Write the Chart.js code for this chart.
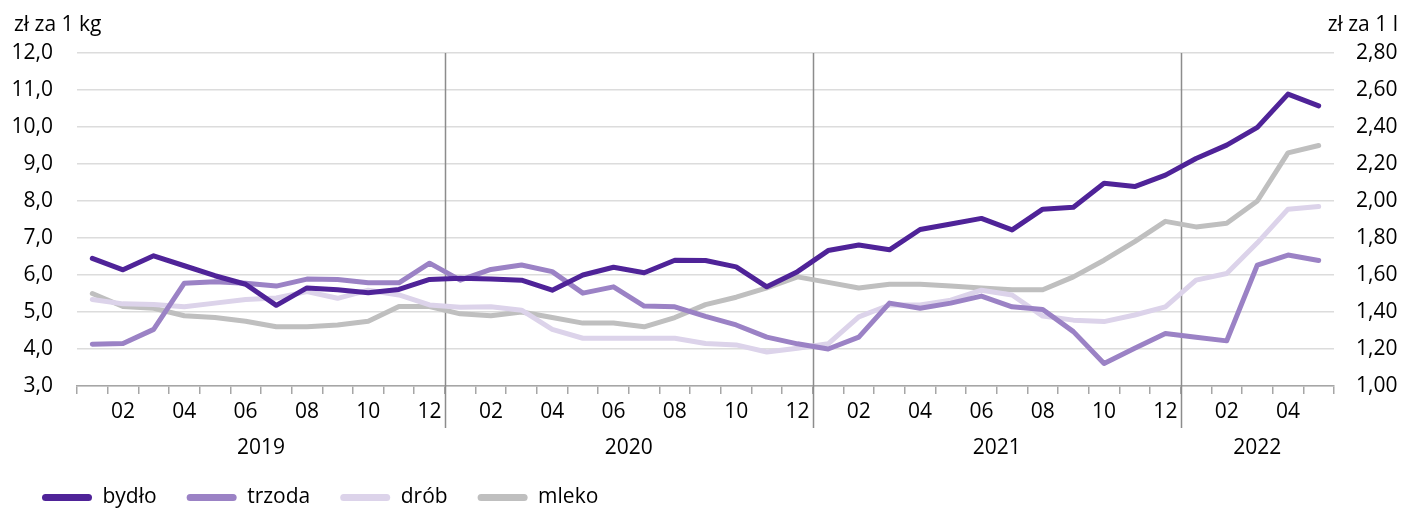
<!DOCTYPE html>
<html><head><meta charset="utf-8">
<script src="https://cdn.jsdelivr.net/npm/chart.js@4/dist/chart.umd.min.js"></script>
<style>html,body{margin:0;padding:0;background:#fff;}#wrap{width:1403px;height:511px;position:relative;}</style>
</head><body><div id="wrap"><canvas id="c" width="1403" height="511"></canvas></div>
<script>
const years = ['2019', '2020', '2021', '2022'];
const categories = [
  '2019-01','2019-02','2019-03','2019-04','2019-05','2019-06','2019-07','2019-08','2019-09','2019-10','2019-11','2019-12',
  '2020-01','2020-02','2020-03','2020-04','2020-05','2020-06','2020-07','2020-08','2020-09','2020-10','2020-11','2020-12',
  '2021-01','2021-02','2021-03','2021-04','2021-05','2021-06','2021-07','2021-08','2021-09','2021-10','2021-11','2021-12',
  '2022-01','2022-02','2022-03','2022-04','2022-05'
];
// zł za 1 kg (left axis)
const bydlo = [6.45,6.14,6.52,6.25,5.98,5.75,5.18,5.65,5.60,5.52,5.61,5.88,
  5.91,5.89,5.86,5.59,6.00,6.21,6.06,6.40,6.39,6.22,5.68,6.09,
  6.66,6.81,6.68,7.23,7.38,7.53,7.22,7.78,7.83,8.48,8.39,8.70,
  9.15,9.51,9.99,10.89,10.57];
const trzoda = [4.13,4.15,4.53,5.78,5.82,5.78,5.70,5.89,5.88,5.79,5.79,6.32,
  5.86,6.15,6.27,6.09,5.51,5.68,5.16,5.14,4.88,4.65,4.32,4.14,
  4.00,4.32,5.24,5.10,5.24,5.43,5.14,5.07,4.47,3.61,4.02,4.42,
  4.32,4.22,6.27,6.54,6.39];
const drob = [5.34,5.22,5.20,5.14,5.24,5.34,5.38,5.55,5.37,5.59,5.46,5.19,
  5.13,5.14,5.05,4.53,4.29,4.29,4.29,4.29,4.15,4.11,3.92,4.02,
  4.14,4.87,5.19,5.19,5.32,5.59,5.46,4.89,4.78,4.74,4.92,5.14,
  5.86,6.04,6.87,7.78,7.85];
// zł za 1 l (right axis)
const mleko = [1.50,1.43,1.42,1.38,1.37,1.35,1.32,1.32,1.33,1.35,1.43,1.43,
  1.39,1.38,1.40,1.37,1.34,1.34,1.32,1.37,1.44,1.48,1.53,1.59,
  1.56,1.53,1.55,1.55,1.54,1.53,1.52,1.52,1.59,1.68,1.78,1.89,
  1.86,1.88,2.00,2.26,2.30];
const seriesNames = ['bydło', 'trzoda', 'drób', 'mleko'];
const colors = ['#4f2398', '#9b82c5', '#dcd3ea', '#bfbfbf'];
const leftTitle = 'zł za 1 kg';
const rightTitle = 'zł za 1 l';

const FONT = '"Open Sans", "Noto Sans", sans-serif';
const fnt = {family: FONT, size: 21};

const decor = {
  id: 'decor',
  beforeDatasetsDraw(chart) {
    const xs = chart.scales.x, ctx = chart.ctx, area = chart.chartArea;
    ctx.save();
    ctx.strokeStyle = '#8c8c8c';
    ctx.lineWidth = 1.5;
    years.forEach(y => {
      const idx = categories.map((c, i) => c.startsWith(y) ? i : -1).filter(i => i >= 0);
      const last = idx[idx.length - 1];
      if (last < categories.length - 1) {
        const xb = Math.round((xs.getPixelForValue(last) + xs.getPixelForValue(last + 1)) / 2) + 0.5;
        ctx.beginPath();
        ctx.moveTo(xb, area.top);
        ctx.lineTo(xb, area.bottom + 42);
        ctx.stroke();
      }
    });
    ctx.restore();
  },
  afterDraw(chart) {
    const xs = chart.scales.x, ctx = chart.ctx, area = chart.chartArea;
    ctx.save();
    ctx.font = '21px ' + FONT;
    ctx.fillStyle = '#000';
    ctx.textBaseline = 'middle';
    ctx.textAlign = 'center';
    years.forEach(y => {
      const idx = categories.map((c, i) => c.startsWith(y) ? i : -1).filter(i => i >= 0);
      const x0 = xs.getPixelForValue(idx[0]), x1 = xs.getPixelForValue(idx[idx.length - 1]);
      ctx.fillText(y, (x0 + x1) / 2, area.bottom + 62);
    });
    ctx.textAlign = 'left';
    ctx.fillText(leftTitle, 14, 25);
    ctx.textAlign = 'right';
    ctx.fillText(rightTitle, 1398, 25);
    ctx.restore();
  }
};

const ds = (label, data, color, axis) => ({
  label, data, borderColor: color, backgroundColor: color, borderWidth: 5,
  pointRadius: 0, pointHoverRadius: 0, tension: 0, fill: false, yAxisID: axis,
  borderJoinStyle: 'round', borderCapStyle: 'round'
});

new Chart(document.getElementById('c'), {
  type: 'line',
  data: {
    labels: categories,
    datasets: [
      ds(seriesNames[0], bydlo, colors[0], 'y'),
      ds(seriesNames[1], trzoda, colors[1], 'y'),
      ds(seriesNames[2], drob, colors[2], 'y'),
      ds(seriesNames[3], mleko, colors[3], 'y1')
    ]
  },
  options: {
    responsive: false,
    animation: false,
    events: [],
    layout: {padding: {top: 53, left: 12, right: 0, bottom: 0}},
    plugins: {
      title: {display: false},
      tooltip: {enabled: false},
      legend: {
        display: true, position: 'bottom', align: 'start', maxHeight: 54,
        labels: {
          boxWidth: 50, boxHeight: 7, padding: 30, font: fnt, color: '#000',
          useBorderRadius: true, borderRadius: 3.5,
          generateLabels(chart) {
            return chart.data.datasets.map((d, i) => ({
              text: d.label, fillStyle: d.borderColor, strokeStyle: d.borderColor,
              lineWidth: 0, hidden: false, datasetIndex: i, borderRadius: 3.5, fontColor: '#000'
            }));
          }
        }
      }
    },
    scales: {
      x: {
        type: 'category', offset: true,
        grid: {display: true, drawOnChartArea: false, drawTicks: true, tickLength: 8, color: '#a6a6a6', lineWidth: 1.5, offset: true},
        border: {display: true, color: '#a6a6a6', width: 1.5},
        ticks: {
          autoSkip: false, maxRotation: 0, minRotation: 0, padding: 5, font: fnt, color: '#000',
          callback: (v, i) => { const m = categories[i].slice(5); return (parseInt(m, 10) % 2 === 0) ? m : ''; }
        },
        afterFit(s) { s.height = 71; }
      },
      y: {
        position: 'left', min: 3, max: 12,
        ticks: {stepSize: 1, padding: 24, font: fnt, color: '#000', callback: v => Number(v).toFixed(1).replace('.', ',')},
        grid: {color: '#dcdcdc', lineWidth: 1.5, drawTicks: false},
        border: {display: false},
        afterFit(s) { s.width = 65; }
      },
      y1: {
        position: 'right', min: 1, max: 2.8,
        ticks: {stepSize: 0.2, padding: 22, font: fnt, color: '#000', callback: v => Number(v).toFixed(2).replace('.', ',')},
        grid: {drawOnChartArea: false, drawTicks: false},
        border: {display: false},
        afterFit(s) { s.width = 69; }
      }
    }
  },
  plugins: [decor]
});
</script></body></html>
